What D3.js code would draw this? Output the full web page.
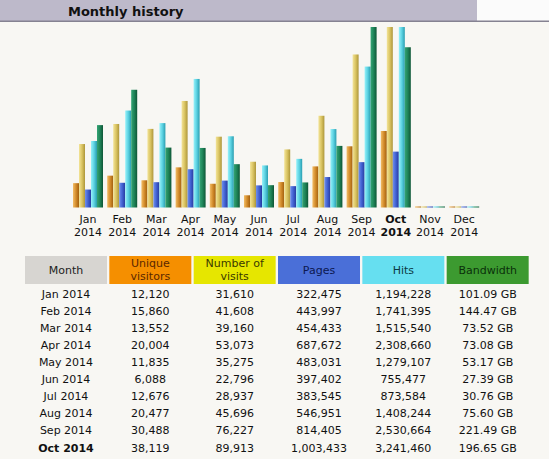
<!DOCTYPE html>
<html>
<head>
<meta charset="utf-8">
<script src="https://cdn.jsdelivr.net/npm/d3@7"></script>
<style>
  html, body { margin: 0; padding: 0; background: #f8f7f3; }
  svg { display: block; }
  text { font-family: "DejaVu Sans", Verdana, sans-serif; }
</style>
</head>
<body>
<svg id="chart" width="549" height="459"></svg>
<script>
// ---- data ----
const months = ["Jan", "Feb", "Mar", "Apr", "May", "Jun", "Jul", "Aug", "Sep", "Oct", "Nov", "Dec"];
const year = "2014";
const currentMonth = "Oct";
const visitors = [12120, 15860, 13552, 20004, 11835, 6088, 12676, 20477, 30488, 38119, 0, 0];
const visits = [31610, 41608, 39160, 53073, 35275, 22796, 28937, 45696, 76227, 89913, 0, 0];
const pages = [322475, 443997, 454433, 687672, 483031, 397402, 383545, 546951, 814405, 1003433, 0, 0];
const hits = [1194228, 1741395, 1515540, 2308660, 1279107, 755477, 873584, 1408244, 2530664, 3241460, 0, 0];
const bandwidth = [101.09, 144.47, 73.52, 73.08, 53.17, 27.39, 30.76, 75.60, 221.49, 196.65, 0, 0];
const seriesKeys = ["visitors", "visits", "pages", "hits", "bandwidth"];
const headers = [["Month"], ["Unique", "visitors"], ["Number of", "visits"], ["Pages"], ["Hits"], ["Bandwidth"]];
const tableRows = 10;

// ---- styles ----
const gradStops = {
  visitors: ["#f2bd66", "#d38c2c", "#a25f0e"],
  visits: ["#f3e498", "#dac462", "#ad963a"],
  pages: ["#7090ec", "#4262d2", "#263a9e"],
  hits: ["#98f2fa", "#5cd2e2", "#2a9eb0"],
  bandwidth: ["#34a474", "#1f8458", "#0e5636"]
};
const headFill = ["#d7d5d1", "#f58f00", "#e6e600", "#4a6fd8", "#66dff0", "#3c9a30"];
const headText = ["#222", "#5a2800", "#3a3a00", "#0c1850", "#0c3a44", "#0a300a"];

const svg = d3.select("#chart");
const W = 549;

// background
svg.append("rect").attr("width", W).attr("height", 459).attr("fill", "#f8f7f3");
svg.append("rect").attr("x", 0).attr("y", 0).attr("width", W).attr("height", 21).attr("fill", "#fbfbfb");
svg.append("rect").attr("x", 0).attr("y", 0).attr("width", 477).attr("height", 21).attr("fill", "#bdb9ca");
svg.append("rect").attr("x", 0).attr("y", 20.5).attr("width", W).attr("height", 1.5).attr("fill", "#858291");
svg.append("text").attr("x", 68).attr("y", 15.5).attr("font-size", 13).attr("font-weight", "bold")
  .attr("fill", "#111").text("Monthly history");

// gradients
const defs = svg.append("defs");
seriesKeys.forEach(k => {
  const g = defs.append("linearGradient").attr("id", "g-" + k)
    .attr("x1", "0").attr("x2", "1").attr("y1", "0").attr("y2", "0");
  gradStops[k].forEach((c, i) => g.append("stop").attr("offset", i / 2).attr("stop-color", c));
});

// scales
const baseY = 207.5, topY = 27;
const x = d3.scaleBand().domain(months).range([73, 479.2]).paddingInner(4.2 / 34.2).paddingOuter(0);
const xs = d3.scaleBand().domain(seriesKeys).range([0, x.bandwidth()]);
const yV = d3.scaleLinear().domain([0, d3.max(visits)]).range([baseY, topY]);
const yH = d3.scaleLinear().domain([0, d3.max(hits)]).range([baseY, topY]);
const yB = d3.scaleLinear().domain([0, d3.max(bandwidth)]).range([baseY, topY]);
const scaleOf = { visitors: yV, visits: yV, pages: yH, hits: yH, bandwidth: yB };
const valuesOf = { visitors, visits, pages, hits, bandwidth };

const data = [];
months.forEach((m, i) => seriesKeys.forEach(k => data.push({ m, k, v: valuesOf[k][i] })));

svg.append("g").selectAll("rect").data(data).join("rect")
  .attr("x", d => x(d.m) + xs(d.k))
  .attr("width", xs.bandwidth())
  .attr("y", d => Math.min(scaleOf[d.k](d.v), baseY - 1))
  .attr("height", d => Math.max(baseY - scaleOf[d.k](d.v), 1))
  .attr("fill", d => "url(#g-" + d.k + ")");

// month labels
const lab = svg.append("g");
months.forEach(m => {
  const cx = x(m) + x.bandwidth() / 2;
  const bold = m === currentMonth ? "bold" : "normal";
  lab.append("text").attr("x", cx).attr("y", 223).attr("text-anchor", "middle")
    .attr("font-size", 11).attr("font-weight", bold).attr("fill", "#111").text(m);
  lab.append("text").attr("x", cx).attr("y", 236).attr("text-anchor", "middle")
    .attr("font-size", 11).attr("font-weight", bold).attr("fill", "#111").text(year);
});

// table
const colX = d3.scaleBand().domain(d3.range(6)).range([25, 25 + 6 * 84]).paddingInner(2 / 84).paddingOuter(0);
const tbl = svg.append("g");
headers.forEach((h, i) => {
  tbl.append("rect").attr("x", colX(i)).attr("y", 256).attr("width", 82).attr("height", 28).attr("fill", headFill[i]);
  const cx = colX(i) + 41;
  if (h.length === 1) {
    tbl.append("text").attr("x", cx).attr("y", 274).attr("text-anchor", "middle")
      .attr("font-size", 11).attr("fill", headText[i]).text(h[0]);
  } else {
    tbl.append("text").attr("x", cx).attr("y", 267).attr("text-anchor", "middle")
      .attr("font-size", 11).attr("fill", headText[i]).text(h[0]);
    tbl.append("text").attr("x", cx).attr("y", 280).attr("text-anchor", "middle")
      .attr("font-size", 11).attr("fill", headText[i]).text(h[1]);
  }
});
const fmt = d3.format(",");
const rowY = d3.scaleLinear().domain([0, 9]).range([297.5, 451.5]);
for (let r = 0; r < tableRows; r++) {
  const cells = [months[r] + " " + year, fmt(visitors[r]), fmt(visits[r]), fmt(pages[r]), fmt(hits[r]),
    bandwidth[r].toFixed(2) + " GB"];
  cells.forEach((c, i) => {
    tbl.append("text").attr("x", colX(i) + 41).attr("y", rowY(r)).attr("text-anchor", "middle")
      .attr("font-size", 11).attr("fill", "#111")
      .attr("font-weight", i === 0 && months[r] === currentMonth ? "bold" : "normal").text(c);
  });
}
</script>
</body>
</html>
